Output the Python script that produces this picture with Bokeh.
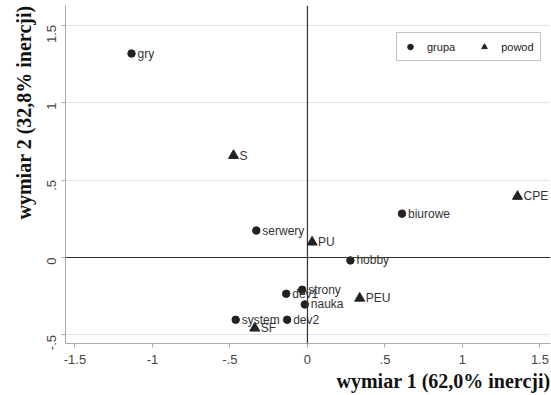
import math
from bokeh.plotting import figure
from bokeh.models import ColumnDataSource, FixedTicker, Span, Legend, LegendItem, Title, LabelSet
from bokeh.embed import file_html
from bokeh.resources import INLINE
from bokeh.core.properties import value

grupa_names = ["gry", "biurowe", "serwery", "hobby", "strony", "dev1", "nauka", "system", "dev2"]
grupa_x = [-1.135, 0.61, -0.33, 0.277, -0.034, -0.137, -0.017, -0.463, -0.131]
grupa_y = [1.316, 0.283, 0.174, -0.019, -0.208, -0.234, -0.303, -0.402, -0.402]

powod_names = ["S", "CPE", "PU", "PEU", "SF"]
powod_x = [-0.477, 1.355, 0.03, 0.337, -0.34]
powod_y = [0.658, 0.394, 0.099, -0.263, -0.456]

tick_values = [-1.5, -1.0, -0.5, 0.0, 0.5, 1.0, 1.5]
tick_labels = ["-1.5", "-1", "-.5", "0", ".5", "1", "1.5"]

x_title = "wymiar 1 (62,0% inercji)"
y_title = "wymiar 2 (32,8% inercji)"

p = figure(width=551, height=395, x_range=(-1.561, 1.568), y_range=(-0.555, 1.626),
           output_backend="svg", toolbar_location=None,
           min_border_left=65, min_border_right=1, min_border_top=5, min_border_bottom=52)
p.outline_line_color = None
p.background_fill_color = "white"
p.xgrid.grid_line_color = None
p.ygrid.grid_line_color = "#e6e6e6"
p.ygrid.ticker = FixedTicker(ticks=tick_values)

overrides = {v: l for v, l in zip(tick_values, tick_labels)}
for ax in (p.xaxis[0], p.yaxis[0]):
    ax.ticker = FixedTicker(ticks=tick_values)
    ax.major_label_overrides = overrides
    ax.axis_line_color = "#aaaaaa"
    ax.major_tick_line_color = "#aaaaaa"
    ax.major_tick_in = 0
    ax.major_tick_out = 4
    ax.minor_tick_line_color = None
    ax.major_label_text_font = "Liberation Sans"
    ax.major_label_text_font_size = "13px"
    ax.major_label_text_color = "#444444"
p.yaxis[0].major_label_orientation = math.pi / 2
p.yaxis[0].major_label_standoff = 10
p.xaxis[0].major_label_standoff = 7

p.add_layout(Span(location=0, dimension="height", line_color="#333333", line_width=1.2))
p.add_layout(Span(location=0, dimension="width", line_color="#333333", line_width=1.2))

gsrc = ColumnDataSource(dict(x=grupa_x, y=grupa_y, name=grupa_names))
psrc = ColumnDataSource(dict(x=powod_x, y=powod_y, name=powod_names))

# small legend-only markers, hidden beneath the real markers
lg = p.scatter("x", "y", source=gsrc, marker="circle", size=5, fill_color="#222222", line_color="#222222")
lp = p.scatter("x", "y", source=psrc, marker="triangle", size=6, fill_color="#222222", line_color="#222222")

p.scatter("x", "y", source=gsrc, marker="circle", size=7.5, fill_color="#222222", line_color="#222222")
p.scatter("x", "y", source=psrc, marker="triangle", size=10, fill_color="#222222", line_color="#222222")

for src in (gsrc, psrc):
    p.add_layout(LabelSet(x="x", y="y", text="name", source=src, x_offset=6, y_offset=0,
                          text_baseline="middle", text_font=value("Liberation Sans"),
                          text_font_size="12px", text_color="#333333"))

legend = Legend(items=[LegendItem(label="grupa", renderers=[lg]), LegendItem(label="powod", renderers=[lp])],
                orientation="horizontal", location=(331, 282),
                border_line_color="#888888", border_line_width=1,
                label_text_font="Liberation Sans", label_text_font_size="11px", label_text_color="#222222",
                glyph_width=14, glyph_height=15, label_standoff=10, spacing=22, padding=6, margin=0,
                label_height=15, background_fill_alpha=1)
p.add_layout(legend, "center")

p.add_layout(Title(text=x_title, align="right", text_font="Liberation Serif", text_font_style="bold",
                   text_font_size="20px", text_color="#111111", standoff=2), "below")
p.add_layout(Title(text=y_title, align="right", text_font="Liberation Serif", text_font_style="bold",
                   text_font_size="20px", text_color="#111111"), "left")

open("out.html", "w").write(file_html(p, INLINE))
